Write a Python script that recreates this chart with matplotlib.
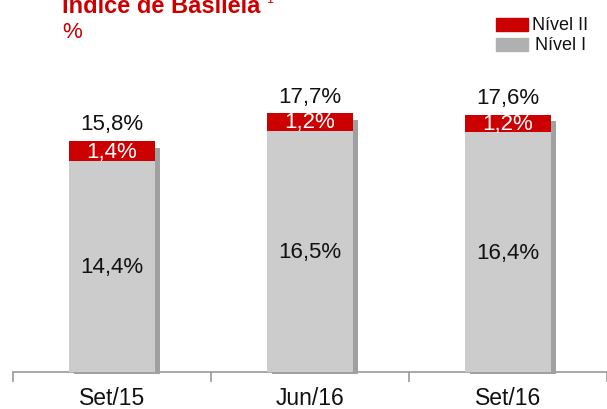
import matplotlib.pyplot as plt
from matplotlib.patches import Rectangle

# ---- data ----
categories = ["Set/15", "Jun/16", "Set/16"]
nivel_i = [14.4, 16.5, 16.4]
nivel_ii = [1.4, 1.2, 1.2]
totals = [15.8, 17.7, 17.6]

RED = "#cc0000"
GRAY = "#cccccc"
SHADOW = "#a0a0a0"

plt.rcParams["font.family"] = ["Liberation Sans", "DejaVu Sans"]

fig = plt.figure(figsize=(6.07, 4.10), dpi=100)
# axis line sits at ~373 px from the top
ax = fig.add_axes([12.7 / 607, 37 / 410, (607 - 12.7) / 607, 373 / 410])

x = list(range(len(categories)))
width = 0.436

# shadow behind bars
ax.bar([i + 0.025 for i in x], [t - 0.35 for t in totals], width=width,
       bottom=-0.12, color=SHADOW, zorder=1, clip_on=False)
ax.bar(x, nivel_i, width=width, color=GRAY, zorder=2)
ax.bar(x, nivel_ii, width=width, bottom=nivel_i, color=RED, zorder=2)

for i in x:
    ax.text(i, nivel_i[i] / 2, f"{nivel_i[i]:.1f}%".replace(".", ","),
            ha="center", va="center", fontsize=16, color="#111111", zorder=3)
    ax.text(i, nivel_i[i] + nivel_ii[i] / 2, f"{nivel_ii[i]:.1f}%".replace(".", ","),
            ha="center", va="center", fontsize=16, color="white", zorder=3)
    ax.text(i, totals[i] + 0.45, f"{totals[i]:.1f}%".replace(".", ","),
            ha="center", va="bottom", fontsize=16, color="#111111", zorder=3)

ax.set_xlim(-0.5, -0.5 + (607 - 12.7) / 200.6)
ax.set_ylim(0, 25.5)

for s in ["top", "right", "left"]:
    ax.spines[s].set_visible(False)
ax.spines["bottom"].set_color("#999999")
ax.spines["bottom"].set_linewidth(1.2)
ax.spines["bottom"].set_zorder(0)
ax.set_yticks([])

ax.set_xticks([-0.5, 0.5, 1.5, 2.5])
ax.set_xticklabels([])
ax.tick_params(axis="x", which="major", length=7, width=1.2, color="#999999")
ax.set_xticks(x, minor=True)
ax.set_xticklabels(categories, minor=True, fontsize=16.5, color="#111111")
ax.tick_params(axis="x", which="minor", length=0, pad=10)

# title
fig.text(62 / 607, 1 - 13 / 410, "Índice de Basileia", fontsize=17,
         fontweight="bold", color=RED, ha="left", va="baseline")
fig.text(266 / 607, 1 - 3 / 410, "1", fontsize=9, color=RED,
         ha="left", va="baseline")
fig.text(62 / 607, 1 - 33 / 410, "%", fontsize=16, color=RED,
         ha="left", va="center")

# legend
fig.patches.append(Rectangle((496 / 607, 1 - 32 / 410), 32 / 607, 13 / 410,
                             transform=fig.transFigure, color=RED))
fig.patches.append(Rectangle((496 / 607, 1 - 52 / 410), 32 / 607, 13 / 410,
                             transform=fig.transFigure, color="#b0b0b0"))
fig.text(532 / 607, 1 - 25 / 410, "Nível II", fontsize=13, color="#111111",
         ha="left", va="center")
fig.text(535 / 607, 1 - 45 / 410, "Nível I", fontsize=13, color="#111111",
         ha="left", va="center")

fig.savefig("out.png", dpi=100)
